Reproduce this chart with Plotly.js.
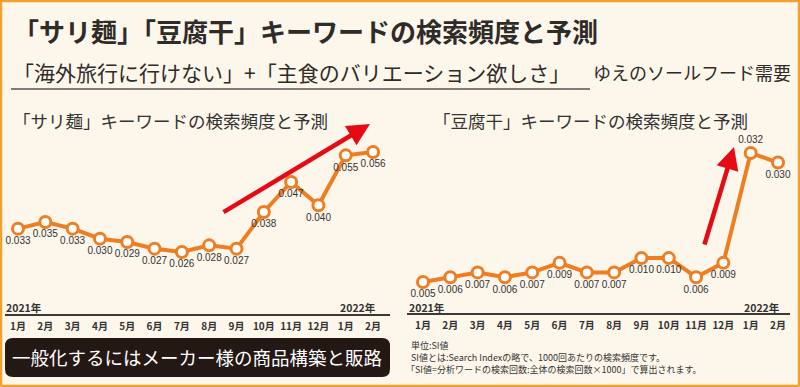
<!DOCTYPE html>
<html>
<head>
<meta charset="utf-8">
<script src="https://cdn.plot.ly/plotly-3.0.1.min.js"></script>
<style>
html,body{margin:0;padding:0;background:#fdf6eb;}
#chart{width:800px;height:387px;}
</style>
</head>
<body>
<div id="chart"></div>
<script>
// ---- data ----
const monthLabels = ["1月","2月","3月","4月","5月","6月","7月","8月","9月","10月","11月","12月","1月","2月"];
const sariValues = [0.033,0.035,0.033,0.030,0.029,0.027,0.026,0.028,0.027,0.038,0.047,0.040,0.055,0.056];
const tofuValues = [0.005,0.006,0.007,0.006,0.007,0.009,0.007,0.007,0.010,0.010,0.006,0.009,0.032,0.030];
const yearLabels = ["2021年","2022年"];

const W = 800, H = 387;
const px = x => x / W;
const py = y => 1 - y / H;

const xIdx = monthLabels.map((_, i) => i);
const orange = "#ef7d22";
const CJK = "Noto Sans CJK JP";

function series(vals, xa, ya, posFn) {
  return {
    x: xIdx, y: vals, xaxis: xa, yaxis: ya,
    type: "scatter", mode: "lines+markers+text",
    line: {color: orange, width: 4},
    marker: {size: 11, color: "#ffffff", line: {color: orange, width: 3}},
    text: vals.map(v => v.toFixed(3)),
    textposition: vals.map(posFn),
    textfont: {family: "Liberation Sans, Arial", size: 10, color: "#333333"},
    cliponaxis: false, hoverinfo: "skip", showlegend: false
  };
}

const maxTofu = Math.max(...tofuValues);
const traces = [
  series(sariValues, "x", "y", () => "bottom center"),
  series(tofuValues, "x2", "y2", v => v === maxTofu ? "top center" : "bottom center")
];

const tickFont = {family: CJK, size: 10, color: "#333333", weight: 700};
function xAxis(d0, d1, r0, r1, anchor) {
  return {
    domain: [px(d0), px(d1)], range: [r0, r1], anchor: anchor,
    showgrid: false, zeroline: false, showline: true, linecolor: "#3a3a3a", linewidth: 1.5,
    tickmode: "array", tickvals: xIdx, ticktext: monthLabels, ticks: "",
    tickfont: tickFont, ticklabelstandoff: 2, fixedrange: true
  };
}
function yAxis(top, bottom, r0, r1, anchor) {
  return {
    domain: [py(bottom), py(top)], range: [r0, r1], anchor: anchor,
    visible: false, fixedrange: true
  };
}

function txt(x, y, text, size, opts) {
  return Object.assign({
    xref: "paper", yref: "paper", x: px(x), y: py(y), text: text,
    showarrow: false, xanchor: "left", yanchor: "middle",
    font: {family: CJK, size: size, color: "#333333"}
  }, opts || {});
}
function arrow(x0, y0, x1, y1) {
  return {
    xref: "paper", yref: "paper", x: px(x1), y: py(y1),
    axref: "pixel", ayref: "pixel", ax: x0 - x1, ay: y0 - y1,
    showarrow: true, arrowhead: 2, arrowsize: 1, arrowwidth: 4.5,
    arrowcolor: "#e50a14", text: ""
  };
}
const boldSmall = {family: CJK, size: 10.5, color: "#333333", weight: 700};
const noteFont = {family: CJK, size: 9, color: "#333333"};

const annotations = [
  txt(11, 31, "「サリ麺」「豆腐干」キーワードの検索頻度と予測", 26, {font: {family: CJK, size: 26, color: "#2e2b29", weight: 700}}),
  txt(11, 72, "「海外旅行に行けない」+「主食のバリエーション欲しさ」", 21, {font: {family: CJK, size: 21, color: "#2e2b29"}}),
  txt(591, 72, "ゆえのソールフード需要", 18, {font: {family: CJK, size: 18, color: "#2e2b29"}}),
  txt(11, 120, "「サリ麺」キーワードの検索頻度と予測", 17.5),
  txt(431, 121, "「豆腐干」キーワードの検索頻度と予測", 17.5),
  txt(4, 307, yearLabels[0], 10.5, {font: boldSmall}),
  txt(338, 307, yearLabels[1], 10.5, {font: boldSmall}),
  txt(407, 307, yearLabels[0], 10.5, {font: boldSmall}),
  txt(742, 307, yearLabels[1], 10.5, {font: boldSmall}),
  txt(197, 357, "一般化するにはメーカー様の商品構築と販路", 18.5, {xanchor: "center", font: {family: CJK, size: 18.5, color: "#ffffff"}}),
  txt(409, 345, "単位:SI値", 9, {font: noteFont}),
  txt(409, 357, "SI値とは:Search Indexの略で、1000回あたりの検索頻度です。", 9, {font: noteFont}),
  txt(404, 369, "「SI値=分析ワードの検索回数:全体の検索回数×1000」で算出されます。", 9, {font: noteFont}),
  arrow(222, 213, 370, 124),
  arrow(704, 246, 734, 147)
];

const shapes = [
  {type: "line", xref: "paper", yref: "paper", x0: px(11), x1: px(590), y0: py(89), y1: py(89),
   line: {color: "#555555", width: 1.5}},
  {type: "path", xref: "paper", yref: "paper",
   path: (function(){
     const x0=5,x1=390,y0=338,y1=377,r=8;
     const P=(x,y)=>px(x)+","+py(y);
     return "M"+P(x0+r,y0)+" L"+P(x1-r,y0)+" Q"+P(x1,y0)+" "+P(x1,y0+r)+
            " L"+P(x1,y1-r)+" Q"+P(x1,y1)+" "+P(x1-r,y1)+
            " L"+P(x0+r,y1)+" Q"+P(x0,y1)+" "+P(x0,y1-r)+
            " L"+P(x0,y0+r)+" Q"+P(x0,y0)+" "+P(x0+r,y0)+" Z";
   })(),
   fillcolor: "#241814", line: {width: 0}, layer: "below"},
  {type: "rect", xref: "paper", yref: "paper", x0: px(1), x1: px(799), y0: py(1), y1: py(386),
   line: {color: "#f2a02e", width: 2.5}, fillcolor: "rgba(0,0,0,0)"}
];

const layout = {
  width: W, height: H,
  margin: {l: 0, r: 0, t: 0, b: 0},
  paper_bgcolor: "#fdf6eb", plot_bgcolor: "rgba(0,0,0,0)",
  showlegend: false,
  xaxis: xAxis(5, 390, -0.476, 13.62, "y"),
  yaxis: yAxis(100, 314, 0.0074, 0.0716, "x"),
  xaxis2: xAxis(407, 790, -0.586, 13.44, "y2"),
  yaxis2: yAxis(100, 313, -0.0015, 0.0431, "x2"),
  annotations: annotations,
  shapes: shapes
};

Plotly.newPlot("chart", traces, layout, {displayModeBar: false, staticPlot: true});
</script>
</body>
</html>
